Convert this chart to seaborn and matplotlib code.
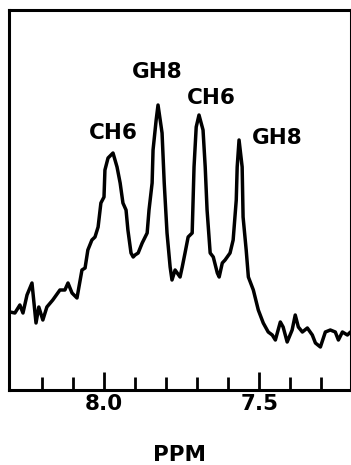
import numpy as np
import pandas as pd
import seaborn as sns
import matplotlib.pyplot as plt
from matplotlib.ticker import MultipleLocator, FixedLocator

# spectrum (chemical shift in ppm, arbitrary intensity)
ppm = [8.303, 8.287, 8.271, 8.261, 8.248, 8.232, 8.219, 8.210, 8.197, 8.184,
       8.165, 8.142, 8.126, 8.116, 8.103, 8.087, 8.071, 8.061, 8.052, 8.039,
       8.029, 8.019, 8.010, 8.000, 7.997, 7.987, 7.971, 7.958, 7.948, 7.939,
       7.929, 7.923, 7.913, 7.906, 7.900, 7.890, 7.877, 7.861, 7.855, 7.845,
       7.842, 7.832, 7.826, 7.819, 7.813, 7.806, 7.797, 7.787, 7.781, 7.771,
       7.755, 7.748, 7.739, 7.729, 7.716, 7.713, 7.710, 7.703, 7.694, 7.681,
       7.674, 7.668, 7.658, 7.648, 7.635, 7.629, 7.619, 7.610, 7.594, 7.584,
       7.574, 7.571, 7.565, 7.555, 7.552, 7.542, 7.535, 7.519, 7.503, 7.487,
       7.471, 7.458, 7.448, 7.432, 7.423, 7.410, 7.394, 7.384, 7.374, 7.361,
       7.345, 7.329, 7.319, 7.303, 7.287, 7.271, 7.255, 7.245, 7.232, 7.216,
       7.206]
intensity = [78, 77, 85, 77, 95, 107, 67, 83, 70, 83,
             90, 100, 100, 107, 97, 92, 120, 122, 140, 150,
             153, 163, 187, 193, 220, 232, 237, 223, 207, 187,
             180, 160, 137, 133, 135, 137, 147, 157, 180, 207,
             240, 270, 285, 270, 257, 207, 157, 123, 110, 120,
             113, 123, 137, 153, 157, 190, 223, 263, 275, 260,
             223, 180, 137, 133, 117, 113, 127, 130, 137, 150,
             190, 223, 250, 223, 173, 140, 113, 100, 80, 67,
             58, 55, 50, 68, 63, 48, 60, 75, 63, 58,
             62, 55, 47, 43, 58, 60, 58, 50, 58, 55,
             58]

# peak labels
peak_labels = ["CH6", "GH8", "CH6", "GH8"]
label_ppm = [7.971, 7.829, 7.655, 7.442]
label_int = [257, 318, 292, 252]

# tick positions
major_ticks = [8.0, 7.5]
minor_ticks = [8.2, 8.1, 7.9, 7.8, 7.7, 7.6, 7.4, 7.3]

df = pd.DataFrame({"ppm": ppm, "intensity": intensity})

sns.set_style("white")
plt.rcParams["font.family"] = ["DejaVu Sans"]
plt.rcParams["font.weight"] = "bold"
plt.rcParams["text.color"] = "black"
plt.rcParams["axes.labelcolor"] = "black"
plt.rcParams["xtick.color"] = "black"

fig = plt.figure(figsize=(3.51, 4.65), dpi=100)
ax = fig.add_axes([9 / 351, 1 - 390 / 465, 341.5 / 351, 380 / 465])

sns.lineplot(data=df, x="ppm", y="intensity", sort=False, estimator=None,
             color="black", linewidth=2.5, ax=ax)
ax.lines[0].set_solid_joinstyle("round")
ax.lines[0].set_solid_capstyle("round")

for lab, xp, yp in zip(peak_labels, label_ppm, label_int):
    ax.text(xp, yp, lab, ha="center", va="center", fontsize=15.5,
            fontweight="bold", color="black")

ax.set_xlim(8.306, 7.206)
ax.set_ylim(0, 380)
ax.set_yticks([])
ax.xaxis.set_major_locator(FixedLocator(major_ticks))
ax.xaxis.set_minor_locator(FixedLocator(minor_ticks))
ax.xaxis.set_major_formatter(lambda v, p: f"{v:.1f}")
ax.tick_params(axis="x", which="major", direction="in", length=13, width=2,
               labelsize=15.5, pad=3, color="black", labelcolor="black",
               bottom=True)
ax.tick_params(axis="x", which="minor", direction="in", length=9.5, width=2,
               color="black", bottom=True)
for lab in ax.get_xticklabels():
    lab.set_fontweight("bold")
ax.set_xlabel("PPM", fontsize=15.5, fontweight="bold", labelpad=22,
              color="black")
ax.set_ylabel("")

for s in ax.spines.values():
    s.set_visible(True)
    s.set_color("black")
    s.set_linewidth(2.2)

fig.savefig("out.png", dpi=100)
